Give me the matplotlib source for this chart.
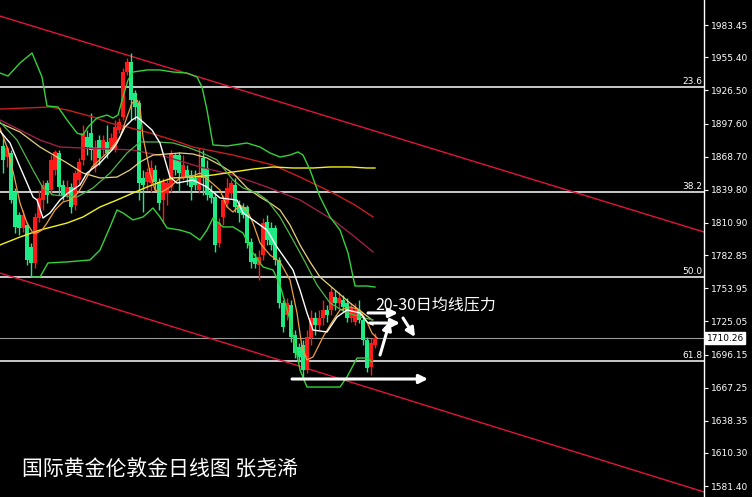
import matplotlib
matplotlib.use("Agg")
import matplotlib.pyplot as plt
import matplotlib.transforms as mtransforms
import numpy as np

plt.rcParams["font.family"] = ["Noto Sans CJK SC", "DejaVu Sans"]

# daily candles, oldest first
opens = [
    1878.0, 1868.4, 1871.9, 1837.9, 1817.8, 1806.5, 1809.1, 1789.9, 1776.0, 1815.2,
    1830.9, 1845.7, 1839.6, 1857.1, 1871.9, 1844.0, 1835.3, 1842.2, 1826.5, 1848.3,
    1865.8, 1885.8, 1889.3, 1859.7, 1883.2, 1874.5, 1881.5, 1876.2, 1874.5, 1891.9,
    1903.3, 1942.5, 1951.2, 1924.2, 1915.5, 1850.1, 1846.6, 1845.7, 1857.1, 1846.6,
    1830.9, 1837.0, 1842.2, 1870.1, 1870.1, 1850.9, 1857.1, 1852.7, 1850.1, 1839.6,
    1867.5, 1858.8, 1837.9, 1833.5, 1793.4, 1816.1, 1828.3, 1837.0, 1844.0, 1826.5,
    1824.8, 1824.8, 1794.3, 1780.3, 1774.2, 1782.9, 1811.7, 1806.5, 1806.5, 1778.6,
    1741.1, 1730.6, 1739.3, 1713.2, 1702.7, 1704.5, 1682.7, 1710.5, 1728.0, 1721.9,
    1728.0, 1735.0, 1735.0, 1746.3, 1741.1, 1743.7, 1741.1, 1728.0, 1724.5, 1735.0,
    1726.3, 1708.8, 1685.3, 1704.5,
]
highs = [
    1885.0, 1878.0, 1874.5, 1841.4, 1820.4, 1822.2, 1811.7, 1793.4, 1819.6, 1839.6,
    1848.3, 1848.3, 1870.1, 1874.5, 1874.5, 1848.3, 1848.3, 1845.7, 1857.1, 1867.5,
    1896.3, 1891.9, 1906.8, 1883.2, 1887.6, 1887.6, 1896.3, 1889.3, 1900.7, 1902.4,
    1946.0, 1954.7, 1959.1, 1926.8, 1918.1, 1857.1, 1858.8, 1865.8, 1861.4, 1850.1,
    1850.1, 1850.1, 1874.5, 1871.9, 1872.8, 1870.1, 1861.4, 1857.1, 1857.1, 1876.2,
    1874.5, 1865.8, 1844.0, 1837.9, 1815.2, 1835.3, 1850.1, 1848.3, 1850.1, 1830.9,
    1828.3, 1826.5, 1797.8, 1784.7, 1787.3, 1815.2, 1817.8, 1811.7, 1809.1, 1781.2,
    1743.7, 1745.4, 1743.7, 1717.5, 1706.2, 1708.8, 1717.5, 1735.0, 1733.2, 1735.0,
    1743.7, 1739.3, 1755.0, 1752.4, 1750.7, 1748.0, 1745.4, 1741.1, 1741.1, 1743.7,
    1730.6, 1711.4, 1710.5, 1714.9,
]
lows = [
    1854.4, 1859.7, 1828.3, 1802.1, 1800.4, 1803.0, 1774.2, 1763.7, 1771.6, 1811.7,
    1822.2, 1828.3, 1835.3, 1852.7, 1835.3, 1830.9, 1832.7, 1819.6, 1822.2, 1844.0,
    1861.4, 1870.1, 1865.8, 1855.3, 1861.4, 1870.1, 1867.5, 1874.5, 1872.8, 1889.3,
    1900.7, 1939.9, 1900.7, 1900.7, 1830.9, 1820.4, 1839.6, 1837.9, 1839.6, 1822.2,
    1810.8, 1826.5, 1837.9, 1852.7, 1837.9, 1848.3, 1844.0, 1830.9, 1839.6, 1837.0,
    1835.3, 1830.9, 1828.3, 1785.6, 1789.9, 1809.1, 1824.8, 1832.7, 1820.4, 1811.7,
    1815.2, 1789.0, 1771.6, 1771.6, 1761.1, 1778.6, 1791.7, 1787.3, 1774.2, 1736.7,
    1715.8, 1726.3, 1707.1, 1693.1, 1689.6, 1676.6, 1680.0, 1704.5, 1713.2, 1717.5,
    1721.9, 1724.5, 1730.6, 1735.0, 1736.7, 1733.2, 1724.5, 1724.5, 1721.9, 1723.6,
    1704.5, 1680.9, 1678.3, 1701.8,
]
closes = [
    1865.8, 1876.2, 1830.9, 1807.4, 1806.5, 1817.8, 1778.6, 1776.0, 1816.1, 1832.7,
    1844.0, 1835.3, 1865.8, 1872.8, 1842.2, 1835.3, 1842.2, 1824.8, 1854.4, 1864.0,
    1889.3, 1877.1, 1874.5, 1877.1, 1867.5, 1883.2, 1871.9, 1885.0, 1894.6, 1898.9,
    1942.5, 1951.2, 1918.1, 1912.0, 1845.7, 1844.0, 1855.3, 1858.8, 1846.6, 1828.3,
    1846.6, 1845.7, 1871.9, 1857.1, 1854.4, 1861.4, 1850.1, 1842.2, 1844.0, 1852.7,
    1850.1, 1835.3, 1832.7, 1791.7, 1810.8, 1830.9, 1841.4, 1845.7, 1824.8, 1819.6,
    1817.8, 1793.4, 1776.9, 1775.1, 1781.2, 1810.8, 1796.0, 1791.7, 1778.6, 1741.1,
    1720.2, 1741.1, 1711.4, 1697.5, 1694.0, 1682.7, 1711.4, 1728.0, 1721.9, 1728.0,
    1735.0, 1730.6, 1750.7, 1741.1, 1745.4, 1737.6, 1728.0, 1736.7, 1735.0, 1726.3,
    1708.8, 1684.4, 1706.2, 1710.26,
]
last_price = 1710.26

# indicator lines as (bar index, price)
boll_upper = [
    (-0.75, 1941.6), (1.25, 1939.0), (4.25, 1950.4), (7.25, 1959.1), (9.75, 1938.2),
    (11, 1912.9), (13.75, 1912.0), (16, 1900.7), (18.5, 1889.3), (20, 1887.6),
    (21.25, 1894.6), (23.5, 1902.4), (26, 1905.0), (27.5, 1902.4), (28.75, 1905.0),
    (30, 1920.7), (31.25, 1935.5), (32.5, 1942.5), (36, 1944.3), (39.25, 1944.3),
    (42.5, 1942.5), (46, 1941.6), (48.5, 1938.2), (49.75, 1929.4), (51, 1909.4),
    (52.5, 1878.9), (56, 1878.0), (61, 1880.6), (64.25, 1877.1), (66.75, 1871.9),
    (69.25, 1868.4), (71.75, 1870.1), (73.75, 1872.8), (75, 1870.1), (76.75, 1857.1),
    (79.25, 1833.5), (81.75, 1816.1), (84.25, 1804.7), (86.25, 1784.7), (88, 1755.9),
    (91, 1755.9), (93, 1755.0),
]
boll_lower = [
    (7.25, 1763.7), (9.25, 1763.7), (11.25, 1776.0), (16, 1776.9), (21.75, 1778.6),
    (24.25, 1787.3), (26.75, 1807.4), (28.5, 1822.2), (30, 1819.6), (32.5, 1813.5),
    (35, 1816.1), (37.5, 1823.9), (39.25, 1816.1), (41, 1806.5), (44.25, 1804.7),
    (46.75, 1802.1), (49.25, 1796.0), (51, 1804.7), (52.5, 1815.2), (55, 1807.4),
    (57.5, 1807.4), (60, 1802.1), (62.5, 1784.7), (65, 1772.5), (67.5, 1769.9),
    (69.25, 1756.8), (71.75, 1726.3), (73.5, 1695.7), (74.25, 1682.7), (76, 1667.8),
    (84.25, 1667.8), (86, 1676.6), (88.5, 1693.1), (91, 1693.1), (92.25, 1689.6),
]
boll_mid = [
    (-0.75, 1898.9), (3.5, 1883.2), (7.5, 1857.1), (10, 1841.4), (12.5, 1835.3),
    (18.5, 1833.5), (22.5, 1841.4), (26.75, 1854.4), (31, 1871.9), (34.25, 1881.5),
    (38.5, 1881.5), (42.5, 1880.6), (46, 1877.1), (49.25, 1872.8), (53.5, 1865.8),
    (57.5, 1848.3), (60, 1841.4), (63.5, 1837.0), (66, 1830.9), (69.25, 1816.1),
    (72.5, 1796.0), (75.5, 1776.9), (78.5, 1756.8), (81.75, 1741.1), (85.5, 1733.2),
    (89.25, 1728.9), (92.5, 1726.3),
]
ma_white = [
    (-0.75, 1891.0), (1.75, 1880.6), (4.25, 1859.7), (6, 1845.7), (7.5, 1833.5),
    (8.5, 1830.9), (10, 1815.2), (11.75, 1819.6), (14.25, 1830.9), (16.25, 1837.0),
    (19.25, 1844.0), (21, 1854.4), (24.25, 1863.2), (27.25, 1874.5), (28.5, 1880.6),
    (30.5, 1894.6), (32.25, 1900.7), (33.5, 1903.3), (35, 1898.9), (37.25, 1891.9),
    (39.25, 1880.6), (40.5, 1865.8), (41.75, 1850.9), (43.5, 1845.7), (47.5, 1848.3),
    (51, 1842.2), (54.25, 1832.7), (58.5, 1830.9), (60, 1819.6), (62.5, 1813.5),
    (66, 1804.7), (68.5, 1789.9), (72.5, 1769.9), (74.25, 1752.4), (76, 1732.4),
    (77.5, 1717.5), (81, 1715.8), (83.5, 1728.9), (86, 1735.0), (89.25, 1732.4),
    (91, 1724.5), (92.5, 1721.9),
]
ma_orange = [
    (-0.75, 1893.7), (1.25, 1874.5), (3, 1848.3), (4.25, 1828.3), (6, 1810.8),
    (7.5, 1802.1), (8.5, 1802.1), (9.75, 1804.7), (11, 1810.8), (13, 1822.2),
    (15, 1829.2), (16.75, 1830.9), (18.75, 1837.0), (21, 1850.9), (22.25, 1859.7),
    (26.75, 1874.5), (29.25, 1885.8), (31, 1903.3), (32.25, 1915.5), (33.5, 1918.1),
    (34.25, 1912.0), (35, 1885.8), (36, 1868.4), (36.75, 1854.4), (38, 1839.6),
    (39.75, 1837.9), (41.75, 1842.2), (44.25, 1850.1), (46.75, 1850.9), (49.25, 1854.4),
    (52.25, 1845.7), (54.25, 1839.6), (56, 1824.8), (57.5, 1820.4), (59.25, 1826.5),
    (61, 1822.2), (62.5, 1810.8), (64.25, 1793.4), (66.75, 1782.9), (69.25, 1776.9),
    (71.75, 1761.1), (73.5, 1732.4), (74.75, 1702.7), (76, 1691.4), (77.5, 1694.0),
    (80, 1711.4), (82.25, 1724.5), (84.25, 1735.0), (86.75, 1737.6), (89.25, 1735.0),
    (91, 1724.5), (92.25, 1714.9), (93.5, 1710.5),
]
ma_khaki = [
    (-0.75, 1898.0), (4.25, 1890.2), (9.25, 1877.1), (16, 1863.2), (20, 1854.4),
    (24.25, 1850.1), (28.5, 1850.9), (31.75, 1857.1), (34.25, 1864.0), (37.5, 1870.1),
    (41, 1871.0), (44.25, 1871.9), (47.5, 1871.0), (51, 1867.5), (54.25, 1861.4),
    (57.5, 1854.4), (61, 1841.4), (64.25, 1833.5), (66.75, 1828.3), (69.25, 1822.2),
    (71.75, 1809.1), (74.25, 1791.7), (76.75, 1776.9), (79.25, 1763.7), (83, 1752.4),
    (86.75, 1741.1), (90, 1732.4), (92.25, 1726.3),
]
ma_yellow = [
    (-0.75, 1791.7), (4.25, 1798.6), (9.25, 1804.7), (16, 1810.8), (20, 1816.1),
    (24.25, 1824.8), (28.5, 1830.9), (32.5, 1837.0), (36, 1842.2), (39.25, 1846.6),
    (42.5, 1850.1), (47.5, 1850.9), (52.5, 1852.7), (57.5, 1855.3), (62.5, 1857.9),
    (67.5, 1859.7), (72.5, 1858.8), (77.5, 1858.8), (81.75, 1859.7), (86.75, 1859.7),
    (91, 1858.8), (93, 1858.8),
]
ma_red = [
    (-0.75, 1910.2), (11.75, 1912.0), (16, 1909.4), (22.5, 1903.3), (26.75, 1898.0),
    (31, 1894.6), (36.75, 1889.3), (42.5, 1883.2), (47.5, 1877.1), (57.5, 1870.1),
    (67.5, 1861.4), (74.25, 1850.9), (82.5, 1837.0), (88, 1826.5), (92.5, 1816.1),
]
ma_maroon = [
    (-0.75, 1900.7), (4.25, 1891.9), (9.25, 1883.2), (14.25, 1877.1), (20, 1876.2),
    (26.75, 1875.4), (32.5, 1874.5), (41, 1868.4), (49.25, 1859.7), (57.5, 1852.7),
    (66, 1842.2), (74.25, 1830.9), (82.5, 1813.5), (88, 1798.6), (92.5, 1785.6),
]

# descending channel, ends at the chart edges
channel_top = [(-0.75, 1991.3), (175.25, 1803.0)]
channel_bottom = [(-0.75, 1767.2), (175.25, 1576.3)]

# fibonacci retracement levels
fib_labels = ["23.6", "38.2", "50.0", "61.8"]
fib_prices = [1929.4, 1837.9, 1763.7, 1690.5]

price_ticks = [1983.45, 1955.40, 1926.50, 1897.60, 1868.70, 1839.80, 1810.90,
               1782.85, 1753.95, 1725.05, 1696.15, 1667.25, 1638.35, 1610.30,
               1581.40]

# hand-drawn arrows: (tail, head)
arrows = [
    ((72.25, 1674.8), (106.25, 1674.8)),
    ((91.25, 1732.4), (98.75, 1732.4)),
    ((91.75, 1723.6), (99.25, 1723.6)),
    ((94.25, 1695.7), (96.75, 1725.4)),
    ((100.0, 1728.0), (103.0, 1711.4)),
]

BULL = "#ff1a1a"
BEAR = "#1eeb86"

fig = plt.figure(figsize=(7.52, 4.97), dpi=100, facecolor="black")
ax = fig.add_axes([0, 0, 704 / 752, 1])
ax.set_facecolor("black")
ax.set_xlim(-0.75, 175.25)
ax.set_ylim(1571.9, 2005.3)

for label, level in zip(fib_labels, fib_prices):
    ax.axhline(level, color="white", lw=1.1, zorder=1)
    ax.text(174.9, level + 1.0, label, color="white", fontsize=6.5,
            ha="right", va="bottom", family="DejaVu Sans")
ax.axhline(last_price, color="#9a9a9a", lw=0.8, zorder=1)

for line in (channel_top, channel_bottom):
    xs, ys = zip(*line)
    ax.plot(xs, ys, color="#e0143c", lw=1.0, zorder=1)

o = np.array(opens)
h = np.array(highs)
l = np.array(lows)
c = np.array(closes)
idx = np.arange(len(o))
colors = np.where(c >= o, BULL, BEAR)
ax.vlines(idx, l, h, colors=colors, lw=1.0, zorder=3)
ax.bar(idx, np.maximum(np.abs(c - o), 0.8), bottom=np.minimum(o, c),
       width=0.78, color=colors, linewidth=0, zorder=3)

indicator_styles = [
    (ma_maroon, "#9c1f45", 1.0),
    (ma_red, "#c81e1e", 1.0),
    (ma_yellow, "#f2f21c", 1.0),
    (ma_khaki, "#e8d27a", 0.9),
    (boll_upper, "#35d13a", 1.0),
    (boll_lower, "#35d13a", 1.0),
    (boll_mid, "#4fb84a", 0.9),
    (ma_orange, "#f0a040", 0.9),
    (ma_white, "white", 1.0),
]
for points, color, width in indicator_styles:
    xs, ys = zip(*points)
    ax.plot(xs, ys, color=color, lw=width, zorder=4)

for tail, head in arrows:
    ax.annotate("", xy=head, xytext=tail, zorder=6,
                arrowprops=dict(arrowstyle="-|>", color="white", lw=2.2,
                                mutation_scale=13, shrinkA=0, shrinkB=0))

ax.text(93, 1739.5, "20-30日均线压力", color="white", fontsize=11.5,
        ha="left", va="center", zorder=7)

ax.yaxis.tick_right()
ax.set_yticks(price_ticks)
ax.set_yticklabels([f"{t:.2f}" for t in price_ticks], family="DejaVu Sans")
ax.tick_params(axis="y", colors="white", labelsize=6.5, length=3, pad=2,
               width=0.8)
ax.set_xticks([])
for side in ("top", "bottom", "left"):
    ax.spines[side].set_visible(False)
ax.spines["right"].set_color("white")
ax.spines["right"].set_linewidth(1.0)

trans = mtransforms.blended_transform_factory(ax.transAxes, ax.transData)
ax.text(1.004, last_price, f"{last_price:.2f}", transform=trans, color="black",
        fontsize=6.5, ha="left", va="center", family="DejaVu Sans",
        bbox=dict(boxstyle="square,pad=0.15", fc="white", ec="white"),
        clip_on=False, zorder=8)

fig.text(22 / 752, 1 - 470 / 497, "国际黄金伦敦金日线图 张尧浠", color="white",
         fontsize=15, ha="left", va="center")

fig.savefig("out.png", dpi=100, facecolor="black")
